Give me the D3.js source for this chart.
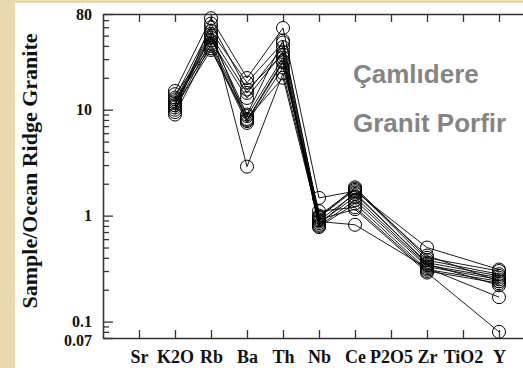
<!DOCTYPE html>
<html>
<head>
<meta charset="utf-8">
<script src="https://cdn.jsdelivr.net/npm/d3@7/dist/d3.min.js"></script>
<style>
  body { margin: 0; background: #ead8ae; }
  svg { display: block; }
</style>
</head>
<body>
<div id="chart"></div>
<script>
'use strict'
const elements = ['Sr', 'K2O', 'Rb', 'Ba', 'Th', 'Nb', 'Ce', 'P2O5', 'Zr', 'TiO2', 'Y']
const yTickLabels = [80, 10, 1, 0.1, 0.07]
const titleLines = ['Çamlıdere', 'Granit Porfir']
// one row per sample, in element order; null = element not plotted
const samples = [
    [null, 15.0, 73, 19.9, 59, 1.47, 1.70, null, 0.50, null, 0.31],
    [null, 13.0, 60, 2.9, 22, 0.95, 1.85, null, 0.40, null, 0.30],
    [null, 12.0, 55, 18.0, 43, 1.00, 1.80, null, 0.38, null, 0.28],
    [null, 11.0, 50, 14.4, 39, 0.90, 1.60, null, 0.36, null, 0.27],
    [null, 10.0, 45, 12.9, 35, 0.85, 1.50, null, 0.34, null, 0.26],
    [null, 9.0, 42, 8.7, 31, 0.80, 1.40, null, 0.33, null, 0.25],
    [null, 14.0, 40, 8.0, 29, 0.78, 1.30, null, 0.31, null, 0.24],
    [null, 12.5, 38, 7.5, 25, 1.10, 1.20, null, 0.30, null, 0.23],
    [null, 10.5, 36.6, 8.2, 20, 0.88, 0.82, null, 0.32, null, 0.17],
    [null, 11.5, 52, 7.8, 28, 0.92, 1.15, null, 0.29, null, 0.08],
    [null, 9.5, 65, 15.5, 33, 0.82, 1.65, null, 0.35, null, 0.22],
    [null, 11.0, 48, 9.0, 45, 0.97, 1.75, null, 0.42, null, 0.24]
]

const width = 523
const height = 368
const frame = { left: 103, top: 14, right: 535, bottom: 338 }
const serif = "'Liberation Serif', 'Times New Roman', serif"

const svg = d3.select('#chart').append('svg')
    .attr('width', width)
    .attr('height', height)

svg.append('rect') // white panel over the parchment
    .attr('x', 15)
    .attr('y', 3)
    .attr('width', width - 15)
    .attr('height', height - 3)
    .attr('fill', '#fff')

const x = d3.scalePoint()
    .domain(elements)
    .range([frame.left, frame.right])
    .padding(1)
const y = d3.scaleLog()
    .domain([0.07, 80])
    .range([frame.bottom, frame.top])

// minor ticks between the labelled decades
const minorTicks = [0.08, 0.09]
    .concat(d3.range(2, 10).map(d => d / 10))
    .concat(d3.range(2, 10))
    .concat(d3.range(20, 80, 10))

function styleAxis(g) {
    g.selectAll('path, line').attr('stroke', '#333').attr('stroke-width', 1.3)
    g.selectAll('text')
        .attr('fill', '#111')
        .attr('font-family', serif)
        .attr('font-weight', 'bold')
}

svg.append('g') // left axis, minor ticks
    .attr('transform', `translate(${frame.left},0)`)
    .call(d3.axisLeft(y).tickValues(minorTicks).tickSize(-6).tickSizeOuter(0).tickFormat(''))
    .call(styleAxis)
svg.append('g') // left axis, labelled ticks
    .attr('transform', `translate(${frame.left},0)`)
    .call(d3.axisLeft(y).tickValues(yTickLabels).tickSize(-10).tickSizeOuter(0).tickPadding(11)
        .tickFormat(d => String(d)))
    .call(styleAxis)
    .call(g => g.selectAll('text').attr('font-size', 16))
    .call(g => g.selectAll('.tick').filter(d => d === 0.07).select('text').attr('dy', '0.45em'))
svg.append('g') // top axis
    .attr('transform', `translate(0,${frame.top})`)
    .call(d3.axisTop(x).tickSize(-8).tickSizeOuter(0).tickFormat(''))
    .call(styleAxis)
svg.append('g') // bottom axis with element names
    .attr('transform', `translate(0,${frame.bottom})`)
    .call(d3.axisBottom(x).tickSize(-8).tickSizeOuter(0).tickPadding(12))
    .call(styleAxis)
    .call(g => g.selectAll('text').attr('font-size', 18))

svg.append('text') // y axis label
    .attr('transform', `translate(37,171) rotate(-90)`)
    .attr('text-anchor', 'middle')
    .attr('font-family', serif)
    .attr('font-weight', 'bold')
    .attr('font-size', 22)
    .attr('fill', '#111')
    .text('Sample/Ocean Ridge Granite')

const line = d3.line()
    .x(d => x(d.el))
    .y(d => y(d.v))

const rows = samples.map(r => r
    .map((v, i) => ({ el: elements[i], v: v }))
    .filter(d => d.v != null))

const series = svg.append('g').selectAll('g')
    .data(rows).enter().append('g')
series.append('path') // sample line, skipping missing elements
    .attr('fill', 'none')
    .attr('stroke', '#000')
    .attr('stroke-width', 0.9)
    .attr('d', line)
series.selectAll('circle')
    .data(d => d).enter().append('circle')
    .attr('cx', d => x(d.el))
    .attr('cy', d => y(d.v))
    .attr('r', 6.5)
    .attr('fill', 'none')
    .attr('stroke', '#000')
    .attr('stroke-width', 1)

svg.append('g').selectAll('text') // gray title
    .data(titleLines).enter().append('text')
    .attr('x', 353)
    .attr('y', (d, i) => 83 + i * 49)
    .attr('font-family', "'Liberation Sans', Arial, sans-serif")
    .attr('font-weight', 'bold')
    .attr('font-size', 26)
    .attr('fill', '#858585')
    .text(d => d)
</script>
</body>
</html>
